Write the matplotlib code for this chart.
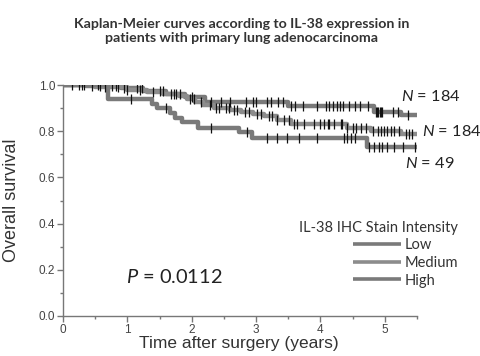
import numpy as np
import matplotlib
matplotlib.use("Agg")
import matplotlib.pyplot as plt
from matplotlib.ticker import MultipleLocator

plt.rcParams['font.family'] = ['Liberation Sans', 'DejaVu Sans']
plt.rcParams['mathtext.fontset'] = 'custom'
plt.rcParams['mathtext.it'] = 'Lato:italic'
plt.rcParams['mathtext.rm'] = 'Lato'

# ---- data ----
groups = ["Low", "Medium", "High"]
n_labels = ["N = 184", "N = 184", "N = 49"]

low_t = [0.0, 0.35, 0.90, 1.25, 1.60, 1.90, 2.20, 3.49, 4.83, 5.25]
low_s = [1.0, 0.995, 0.985, 0.975, 0.962, 0.948, 0.928, 0.909, 0.884, 0.870]

med_t = [0.0, 0.50, 1.00, 1.30, 1.55, 1.80, 1.93, 2.05, 2.18, 2.35, 2.60, 2.76,
         2.95, 3.12, 3.33, 3.54, 4.42, 4.78, 5.25]
med_s = [1.0, 0.99, 0.98, 0.97, 0.962, 0.952, 0.938, 0.925, 0.913, 0.90, 0.89,
         0.884, 0.875, 0.866, 0.85, 0.832, 0.815, 0.80, 0.788]

high_t = [0.0, 0.70, 1.38, 1.46, 1.67, 1.74, 1.85, 2.10, 2.73, 2.94, 4.72]
high_s = [1.0, 0.94, 0.918, 0.90, 0.88, 0.857, 0.84, 0.815, 0.797, 0.772, 0.730]

low_cens = [0.14, 0.32, 0.45, 0.58, 0.76, 0.82, 0.95, 1.15, 1.22, 1.51, 1.56,
            1.75, 1.82, 2.0, 2.3, 2.45, 2.6, 2.84, 2.95, 3.0, 3.17, 3.23, 3.34,
            3.42, 3.55, 3.6, 3.73, 3.94, 4.09, 4.14, 4.19, 4.25, 4.3, 4.35, 4.45,
            4.53, 4.61, 4.74, 4.86, 4.88, 4.90, 4.92, 4.94, 4.96, 5.13, 5.2, 5.36]
med_cens = [0.25, 0.65, 0.86, 1.0, 1.2, 1.4, 1.68, 1.72, 1.98, 2.03, 2.15, 2.29,
            2.37, 2.42, 2.53, 2.58, 2.65, 2.70, 2.83, 2.89, 3.01, 3.07, 3.20,
            3.25, 3.33, 3.43, 3.51, 3.59, 3.64, 3.74, 3.90, 4.00, 4.06, 4.11,
            4.13, 4.21, 4.32, 4.34, 4.42, 4.50, 4.55, 4.63, 4.71, 4.81, 4.89,
            4.94, 4.99, 5.04, 5.09, 5.14, 5.22, 5.33, 5.38, 5.43]
high_cens = [0.3, 0.55, 1.05, 1.6, 2.3, 2.86, 3.17, 3.33, 3.48, 3.67, 3.95, 4.37,
             4.42, 4.47, 4.54, 4.76, 4.83, 4.91, 4.96, 5.04, 5.14, 5.29, 5.47]

t_end = 5.5
x_ticks = [0, 1, 2, 3, 4, 5]
y_ticks = [0.0, 0.2, 0.4, 0.6, 0.8, 1.0]

series = [(low_t, low_s, low_cens), (med_t, med_s, med_cens), (high_t, high_s, high_cens)]
colors = ["#7a7a7a", "#8c8c8c", "#7a7a7a"]

fig = plt.figure(figsize=(4.81, 3.56), dpi=100)
ax = fig.add_axes([63/481, 1-316/356, 354/481, 231/356])

handles = []
for (t, s, c), col, g in zip(series, colors, groups):
    tt = list(t) + [t_end]
    ss = list(s) + [s[-1]]
    h, = ax.step(tt, ss, where='post', color=col, lw=3.2, solid_capstyle='butt', label=g, zorder=2)
    handles.append(h)
    idx = np.searchsorted(np.array(t), np.array(c), side='right') - 1
    cs = np.array(s)[idx]
    ax.plot(c, cs, ls='none', marker='|', ms=7, mew=0.9, color='#111111', zorder=3)

ax.set_xlim(0, t_end)
ax.set_ylim(0, 1.0)
ax.set_xticks(x_ticks)
ax.set_yticks(y_ticks)
ax.set_yticklabels([f"{v:.1f}" for v in y_ticks])
ax.xaxis.set_minor_locator(MultipleLocator(0.5))
ax.yaxis.set_minor_locator(MultipleLocator(0.1))
for sp in ['top', 'right']:
    ax.spines[sp].set_visible(False)
for sp in ['left', 'bottom']:
    ax.spines[sp].set_color('#777777')
    ax.spines[sp].set_linewidth(1.0)
ax.spines['left'].set_bounds(0, 1.0)
ax.tick_params(which='major', length=4, width=1, color='#777777', labelsize=8.5, labelcolor='#444444', pad=1.5)
ax.tick_params(which='minor', length=2.5, width=1, color='#777777')

ax.set_ylabel("Overall survival", fontsize=13, color='#333333')
ax.yaxis.set_label_coords(-0.121, 0.50)
ax.set_xlabel("Time after surgery (years)", fontsize=12.5, color='#333333')
ax.xaxis.set_label_coords(0.497, -0.085)

ax.text(0.314, 0.167, r"$P$ = 0.0112", transform=ax.transAxes, ha='center', va='center',
        fontsize=14.4, family='Lato', color='#222222')

n_pos = [(1.04, 0.952), (1.099, 0.80), (1.037, 0.662)]
for lab, (x, y) in zip(n_labels, n_pos):
    ax.text(x, y, r"$N$" + lab[1:], transform=ax.transAxes, ha='center', va='center',
            fontsize=11.8, family='Lato', color='#222222', clip_on=False)

leg = ax.legend(handles=handles, labels=groups, title="IL-38 IHC Stain Intensity",
                loc='upper right', bbox_to_anchor=(1.116, 0.413), frameon=False,
                borderpad=0, borderaxespad=0, handlelength=3.3, handletextpad=0.25,
                labelspacing=0.25, alignment='right',
                prop={'family': 'Lato', 'size': 10.5},
                title_fontproperties={'family': 'Lato', 'size': 10.5})
for txt in leg.get_texts():
    txt.set_color('#333333')
leg.get_title().set_color('#333333')
for lh in leg.legend_handles:
    lh.set_linewidth(2.6)

fig.text(0.503, 0.913, "Kaplan-Meier curves according to IL-38 expression in\npatients with primary lung adenocarcinoma",
         ha='center', va='center', fontsize=10.2, fontweight='bold', family='Lato',
         color='#333333', linespacing=1.2)

fig.savefig("out.png", dpi=100)
